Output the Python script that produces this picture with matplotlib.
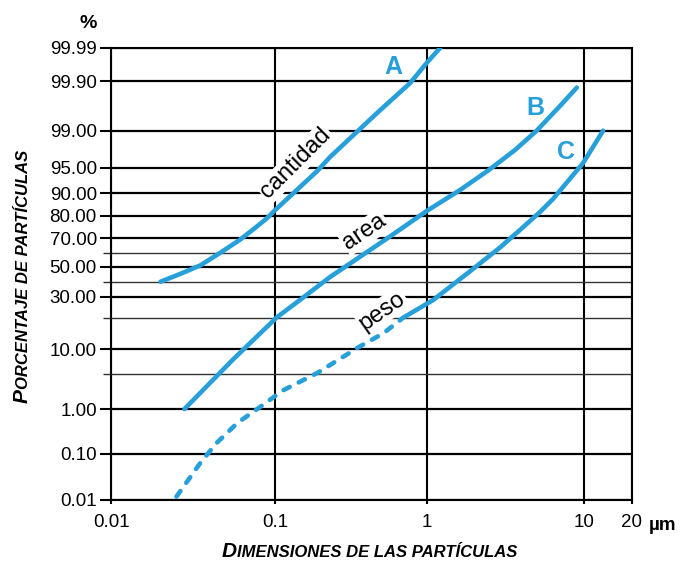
import math
import numpy as np
import matplotlib
matplotlib.use("Agg")
import matplotlib.pyplot as plt

plt.rcParams['font.family'] = ['Liberation Sans', 'DejaVu Sans']

# curves: particle size (um) vs cumulative %
a_size = [0.020, 0.0263, 0.035, 0.0461, 0.061, 0.0755, 0.089, 0.10, 0.19, 0.23,
          0.47, 0.78, 1.0, 1.22]
a_pct = [40, 45.1, 51, 59.8, 69, 74.9, 79, 83, 94.5, 96.7, 99.53, 99.89, 99.97, 99.99]

b_size = [0.028, 0.055, 0.103, 0.146, 0.23, 0.55, 1.0, 1.63, 2.5, 3.64, 5.0, 7.04, 9.0]
b_pct = [1.0, 7.5, 20.2, 28.3, 43, 70, 82.6, 90.8, 94.7, 97.56, 99.0, 99.66, 99.86]

c_dash_size = [0.025, 0.035, 0.044, 0.059, 0.081, 0.113, 0.19, 0.35, 0.52, 0.70]
c_dash_pct = [0.012, 0.066, 0.185, 0.52, 1.11, 2.5, 5.2, 10.3, 14.5, 20]
c_size = [0.70, 1.10, 1.89, 2.9, 3.92, 5.25, 6.35, 9.85, 13.2]
c_pct = [20, 28.3, 47, 63.4, 74, 82.1, 87.9, 95.8, 99.0]

y_major = [0.01, 0.1, 1, 10, 30, 50, 70, 80, 90, 95, 99, 99.9, 99.99]
y_labels = ['0.01', '0.10', '1.00', '10.00', '30.00', '50.00', '70.00',
            '80.00', '90.00', '95.00', '99.00', '99.90', '99.99']
y_minor = [5, 20, 40, 60]
x_ticks = [0.01, 0.1, 1, 10, 20]
x_labels = ['0.01', '0.1', '1', '10', '20']

# the printed probability paper is not quite regular, so calibrate it
paper_pct = [0.01, 0.1, 1, 5, 10, 20, 30, 40, 50, 60, 70, 80, 90, 95, 99, 99.9, 99.99]
paper_ypix = [500, 454, 409, 374.3, 349, 317.7, 296.7, 281.7, 266.7, 252.7,
              238.3, 216, 193.3, 167.7, 130.7, 81, 47.7]
paper_dec = [0.01, 0.1, 1, 10, 20]
paper_xpix = [111.3, 275, 426.7, 584, 631.7]

zz = np.linspace(-5, 5, 4001)
pp = np.array([50 * (1 + math.erf(z / math.sqrt(2))) for z in zz])
zp = np.interp(paper_pct, pp, zz)
hp = 500 - np.array(paper_ypix)
lx = np.log10(paper_dec)
xp = np.array(paper_xpix)


def y_fwd(p):
    return np.interp(np.interp(np.asarray(p, float), pp, zz), zp, hp)


def y_inv(h):
    return np.interp(np.interp(np.asarray(h, float), hp, zp), zz, pp)


def x_fwd(v):
    return np.interp(np.log10(np.clip(np.asarray(v, float), 1e-9, None)), lx, xp)


def x_inv(u):
    return 10 ** np.interp(np.asarray(u, float), xp, lx)


W, H = 686, 562


def px(x, y):
    return x / W, 1 - y / H


blue = '#27a0da'

fig = plt.figure(figsize=(6.86, 5.62), dpi=100)
ax = fig.add_axes([111.3 / W, 1 - 500 / H, (631.7 - 111.3) / W, (500 - 47.7) / H])
ax.set_xscale('function', functions=(x_fwd, x_inv))
ax.set_yscale('function', functions=(y_fwd, y_inv))
ax.set_xlim(0.01, 20)
ax.set_ylim(0.01, 99.99)

ax.set_xticks(x_ticks, labels=x_labels)
ax.set_xticks([], minor=True)
ax.set_yticks(y_major, labels=y_labels)
ax.set_yticks(y_minor, minor=True)
ax.tick_params(axis='y', which='major', direction='out', length=8, width=1.5,
               pad=2.4, labelsize=13.5)
ax.tick_params(axis='y', which='minor', direction='out', length=5.5, width=1,
               color='#333333')
ax.tick_params(axis='x', which='major', direction='out', length=3, width=1.5,
               pad=7, labelsize=13.5)
ax.set_axisbelow(True)
ax.grid(axis='y', which='major', color='black', lw=1.6)
ax.grid(axis='y', which='minor', color='#333333', lw=1.0)
ax.grid(axis='x', which='major', color='black', lw=1.5)
for s in ax.spines.values():
    s.set_linewidth(1.5)

lw = 3.3
ax.plot(a_size, a_pct, color=blue, lw=lw, solid_capstyle='round',
        solid_joinstyle='round', zorder=4)
ax.plot(b_size, b_pct, color=blue, lw=lw, solid_capstyle='round',
        solid_joinstyle='round', zorder=4)
ax.plot(c_size, c_pct, color=blue, lw=lw, solid_capstyle='round',
        solid_joinstyle='round', zorder=4)
ax.plot(c_dash_size, c_dash_pct, color=blue, lw=lw, ls=(0, (1.5, 2.2)),
        dash_capstyle='round', zorder=4)

box = dict(fc='white', ec='none', pad=1)
ax.text(0.1375, 95.8, 'cantidad', rotation=45, fontsize=17, ha='center',
        va='center', bbox=box, zorder=3)
ax.text(0.39, 73, 'area', rotation=34, fontsize=17, ha='center',
        va='center', bbox=box, zorder=3)
ax.text(0.51, 23, 'peso', rotation=35, fontsize=17, ha='center',
        va='center', bbox=box, zorder=3)

for lab, x, y in [('A', 0.60, 99.96), ('B', 4.9, 99.63), ('C', 7.7, 97.3)]:
    ax.text(x, y, lab, fontsize=18, weight='bold', color=blue, ha='center',
            va='center', zorder=5)

fig.text(*px(88, 24), '%', fontsize=14, weight='bold', ha='center', va='center')
fig.text(*px(663, 525), 'µm', fontsize=13.5, weight='bold', ha='center', va='center')

# small caps labels, built from a big first letter plus smaller capitals
sc = dict(weight='bold', style='italic')
t1 = fig.text(*px(222, 557), 'D', fontsize=15, ha='left', va='baseline', **sc)
ax.annotate('IMENSIONES DE LAS PARTÍCULAS', xy=(1, 1 - 557 / H),
            xycoords=(t1, 'figure fraction'), fontsize=12, ha='left',
            va='baseline', **sc)

t2 = fig.text(*px(28, 403), 'P', fontsize=15, rotation=90, rotation_mode='anchor',
              ha='left', va='baseline', **sc)
ax.annotate('ORCENTAJE DE PARTÍCULAS', xy=(28 / W, 1), xycoords=('figure fraction', t2),
            fontsize=12, rotation=90, rotation_mode='anchor', ha='left',
            va='baseline', **sc)

fig.savefig('out.png', dpi=100)
